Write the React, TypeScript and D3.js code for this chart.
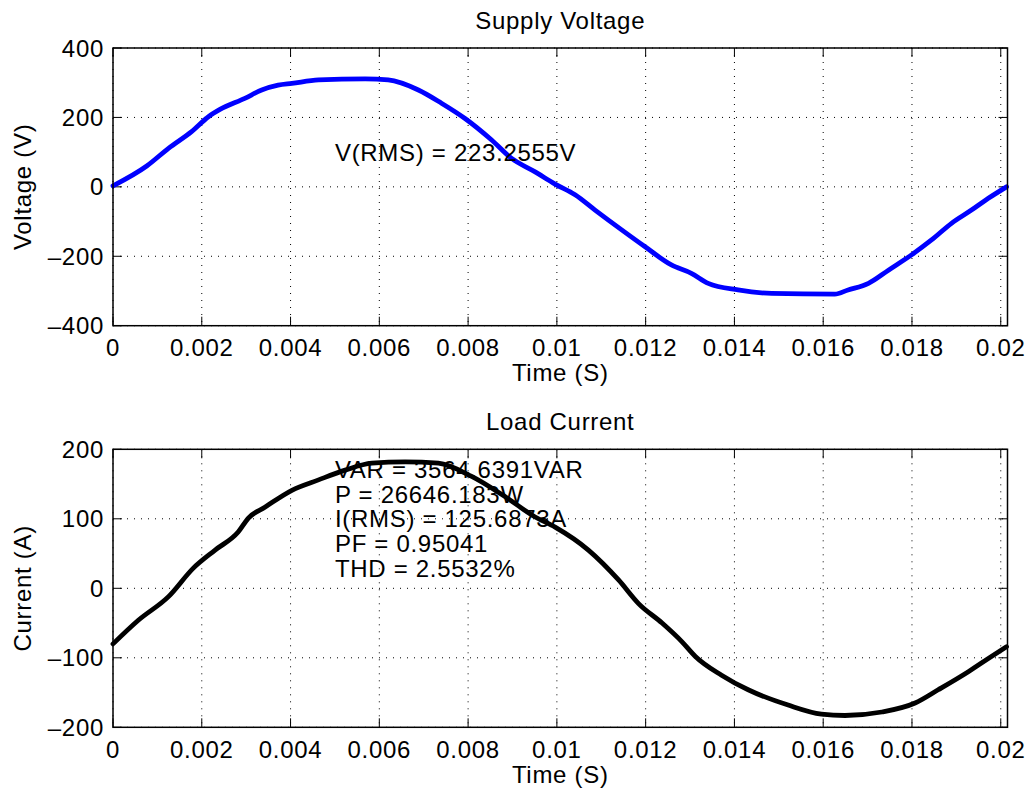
import React from "react";
import * as d3 from "d3";

const timeV = [0, 0.00076, 0.00125, 0.00177, 0.00215, 0.00241, 0.00297, 0.00335, 0.00372, 0.00403, 0.00463, 0.00568, 0.0062, 0.00688, 0.0074, 0.00793, 0.00853, 0.00898, 0.0095, 0.00996, 0.01041, 0.01086, 0.01146, 0.01198, 0.01258, 0.01303, 0.01341, 0.01408, 0.01484, 0.01626, 0.01656, 0.01702, 0.01747, 0.01799, 0.01844, 0.01889, 0.01934, 0.01972, 0.02013];
const voltage = [3, 60, 111, 159, 202, 223, 255, 279, 293, 298, 308, 311, 308, 279, 241, 197, 135, 82, 44, 8, -23, -67, -124, -172, -225, -249, -278, -297, -307, -309, -297, -278, -240, -196, -153, -105, -67, -33, 0];

const timeI = [0, 0.00057, 0.00125, 0.00181, 0.0023, 0.00282, 0.00305, 0.00343, 0.00403, 0.00463, 0.00523, 0.00583, 0.00658, 0.00733, 0.00808, 0.00883, 0.0095, 0.00996, 0.01071, 0.01139, 0.01184, 0.01237, 0.01282, 0.01312, 0.01371, 0.01431, 0.01521, 0.01596, 0.01649, 0.01732, 0.01807, 0.01859, 0.01927, 0.01972, 0.02013];
const current = [-80, -46, -12, 29, 55, 81, 101, 117, 141, 156, 170, 180, 182, 180, 161, 132, 103, 88, 55, 12, -22, -50, -77, -98, -125, -146, -168, -181, -183, -178, -165, -146, -120, -101, -84];

const xTicks = [0, 0.002, 0.004, 0.006, 0.008, 0.01, 0.012, 0.014, 0.016, 0.018, 0.02];
const xTickLabels = ["0", "0.002", "0.004", "0.006", "0.008", "0.01", "0.012", "0.014", "0.016", "0.018", "0.02"];
const vTicks = [-400, -200, 0, 200, 400];
const iTicks = [-200, -100, 0, 100, 200];

const vText = ["V(RMS) = 223.2555V"];
const iText = ["VAR = 3564.6391VAR", "P = 26646.183W", "I(RMS) = 125.6873A", "PF = 0.95041", "THD = 2.5532%"];

const FONT = "'Liberation Sans', Arial, Helvetica, sans-serif";
const FS = 24;
const LS = 0.7;
const XMAX = 0.020152;
const LEFT = 113;
const RIGHT = 1007.5;

type PanelProps = {
  top: number;
  bottom: number;
  t: number[];
  v: number[];
  yDomain: [number, number];
  yTicks: number[];
  color: string;
  title: string;
  ylabel: string;
  texts: string[];
  textAt: [number, number];
};

function Panel(p: PanelProps) {
  const x = d3.scaleLinear().domain([0, XMAX]).range([LEFT, RIGHT]);
  const y = d3.scaleLinear().domain(p.yDomain).range([p.bottom, p.top]);
  const line = d3.line<number>().x((_, i) => x(p.t[i])).y((d) => y(d)).curve(d3.curveMonotoneX);
  const tl = 9;
  const lh = 24.6;
  const n = p.texts.length;
  const tx = x(p.textAt[0]);
  const ty = y(p.textAt[1]);
  const fmtY = (d: number) => (d < 0 ? "\u2013" + Math.abs(d) : String(d));
  const midX = (LEFT + RIGHT) / 2;
  const midY = (p.top + p.bottom) / 2;
  const tp = { fontFamily: FONT, fontSize: FS, letterSpacing: LS, dominantBaseline: "central" as const };
  return (
    <g>
      {xTicks.map((d) => (
        <line key={"gx" + d} x1={x(d)} x2={x(d)} y1={p.top} y2={p.bottom} stroke="#000" strokeWidth={1} strokeDasharray="1,6" />
      ))}
      {p.yTicks.map((d) => (
        <line key={"gy" + d} x1={LEFT} x2={RIGHT} y1={y(d)} y2={y(d)} stroke="#000" strokeWidth={1} strokeDasharray="1,6" />
      ))}
      {xTicks.map((d) => (
        <g key={"tx" + d}>
          <line x1={x(d)} x2={x(d)} y1={p.bottom} y2={p.bottom - tl} stroke="#000" strokeWidth={1} />
          <line x1={x(d)} x2={x(d)} y1={p.top} y2={p.top + tl} stroke="#000" strokeWidth={1} />
        </g>
      ))}
      {p.yTicks.map((d) => (
        <g key={"ty" + d}>
          <line x1={LEFT} x2={LEFT + tl} y1={y(d)} y2={y(d)} stroke="#000" strokeWidth={1} />
          <line x1={RIGHT} x2={RIGHT - tl} y1={y(d)} y2={y(d)} stroke="#000" strokeWidth={1} />
        </g>
      ))}
      <path d={line(p.v) || ""} fill="none" stroke={p.color} strokeWidth={4.8} strokeLinejoin="round" strokeLinecap="round" />
      <rect x={LEFT} y={p.top} width={RIGHT - LEFT} height={p.bottom - p.top} fill="none" stroke="#000" strokeWidth={1.5} />
      {xTicks.map((d, i) => (
        <text key={"lx" + d} x={x(d)} y={p.bottom + 22} textAnchor="middle" {...tp}>
          {xTickLabels[i]}
        </text>
      ))}
      {p.yTicks.map((d) => (
        <text key={"ly" + d} x={LEFT - 9} y={y(d)} textAnchor="end" {...tp}>
          {fmtY(d)}
        </text>
      ))}
      <text x={midX} y={p.top - 28} textAnchor="middle" {...tp}>
        {p.title}
      </text>
      <text x={midX} y={p.bottom + 47} textAnchor="middle" {...tp}>
        Time (S)
      </text>
      <text transform={`translate(22,${midY}) rotate(-90)`} textAnchor="middle" {...tp}>
        {p.ylabel}
      </text>
      {p.texts.map((s, i) => (
        <text key={"an" + i} x={tx} y={ty + (i - (n - 1) / 2) * lh} {...tp}>
          {s}
        </text>
      ))}
    </g>
  );
}

export default function App() {
  return (
    <svg width={1031} height={795} style={{ position: "absolute", left: 0, top: 0, background: "#fff" }}>
      <rect width={1031} height={795} fill="#fff" />
      <Panel top={48} bottom={325.7} t={timeV} v={voltage} yDomain={[-400, 400]} yTicks={vTicks} color="#0000ff" title="Supply Voltage" ylabel="Voltage (V)" texts={vText} textAt={[0.005, 100]} />
      <Panel top={449.3} bottom={727.3} t={timeI} v={current} yDomain={[-200, 200]} yTicks={iTicks} color="#000000" title="Load Current" ylabel="Current (A)" texts={iText} textAt={[0.005, 100]} />
    </svg>
  );
}
